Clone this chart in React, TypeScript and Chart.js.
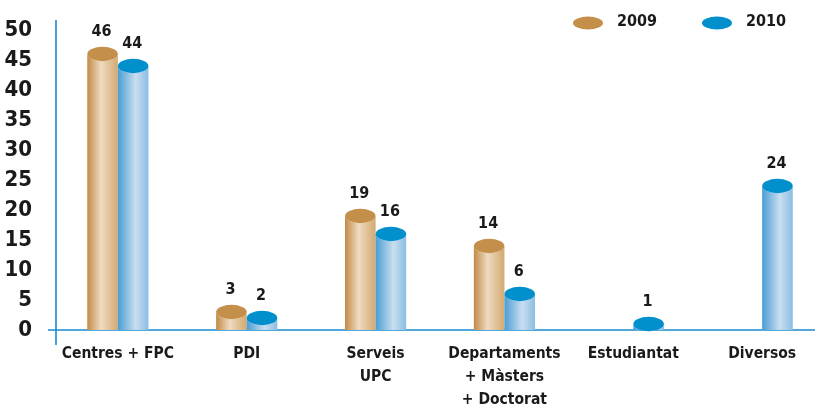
import React, { useEffect, useRef } from 'react';
import { Chart, registerables } from 'chart.js';

Chart.register(...registerables);

const categories: (string | string[])[] = [
  'Centres + FPC',
  'PDI',
  ['Serveis', 'UPC'],
  ['Departaments', '+ Màsters', '+ Doctorat'],
  'Estudiantat',
  'Diversos',
];
const seriesNames = ['2009', '2010'];
const values2009: (number | null)[] = [46, 3, 19, 14, null, null];
const values2010: (number | null)[] = [44, 2, 16, 6, 1, 24];
const yMin = 0;
const yMax = 50;
const yStep = 5;

const FONT = '"DejaVu Sans Condensed", "DejaVu Sans", sans-serif';
const AXIS_BLUE = '#1a8bd0';

const palettes = [
  { top: '#c48f4b', stops: ['#c28a46', '#eedbc1', '#d3a970'] },
  { top: '#0290cc', stops: ['#4a9dd3', '#c9def0', '#8cbde2'] },
];

const axisLinesPlugin = {
  id: 'axisLines',
  beforeDatasetsDraw(chart: any) {
    const { ctx, chartArea } = chart;
    const yZero = chart.scales.y.getPixelForValue(0);
    ctx.save();
    ctx.strokeStyle = AXIS_BLUE;
    ctx.lineWidth = 1.6;
    ctx.beginPath();
    ctx.moveTo(chartArea.left - 8, yZero);
    ctx.lineTo(chartArea.right, yZero);
    ctx.moveTo(chartArea.left, chartArea.top - 10);
    ctx.lineTo(chartArea.left, yZero + 15);
    ctx.stroke();
    ctx.restore();
  },
};

const cylinderPlugin = {
  id: 'cylinders',
  afterDatasetsDraw(chart: any) {
    const ctx = chart.ctx;
    chart.data.datasets.forEach((ds: any, di: number) => {
      const meta = chart.getDatasetMeta(di);
      const pal = palettes[di];
      meta.data.forEach((el: any, i: number) => {
        const v = ds.data[i].y;
        if (v == null) return;
        const { x, y, base, width } = el.getProps(['x', 'y', 'base', 'width'], true);
        if (!isFinite(y)) return;
        const rx = width / 2;
        const ry = width * 0.235;
        const l = x - rx;
        const r = x + rx;
        ctx.save();
        const g = ctx.createLinearGradient(l, 0, r, 0);
        g.addColorStop(0, pal.stops[0]);
        g.addColorStop(di === 0 ? 0.45 : 0.58, pal.stops[1]);
        g.addColorStop(1, pal.stops[2]);
        ctx.fillStyle = g;
        ctx.beginPath();
        ctx.moveTo(l, base);
        ctx.lineTo(l, y);
        ctx.ellipse(x, y, rx, ry, 0, Math.PI, 0, true);
        ctx.lineTo(r, base);
        ctx.closePath();
        ctx.fill();
        ctx.fillStyle = pal.top;
        ctx.beginPath();
        ctx.ellipse(x, y, rx, ry, 0, 0, Math.PI * 2);
        ctx.fill();
        ctx.fillStyle = '#1a1a1a';
        ctx.font = `bold 16px ${FONT}`;
        ctx.textAlign = 'center';
        ctx.textBaseline = 'bottom';
        ctx.fillText(String(v), x - 1, y - ry - 7);
        ctx.restore();
      });
    });
  },
};

const legendPlugin = {
  id: 'customLegend',
  afterDraw(chart: any) {
    const ctx = chart.ctx;
    const startX = chart.width - 227;
    const gap = 129;
    const cy = 23;
    chart.data.datasets.forEach((ds: any, di: number) => {
      const cx = startX + di * gap;
      ctx.save();
      ctx.fillStyle = palettes[di].top;
      ctx.beginPath();
      ctx.ellipse(cx, cy, 15, 6.5, 0, 0, Math.PI * 2);
      ctx.fill();
      ctx.fillStyle = '#1a1a1a';
      ctx.font = `bold 16px ${FONT}`;
      ctx.textAlign = 'left';
      ctx.textBaseline = 'middle';
      ctx.fillText(ds.label, cx + 29, cy - 1);
      ctx.restore();
    });
  },
};

export default function App() {
  const ref = useRef<HTMLCanvasElement | null>(null);
  useEffect(() => {
    document.body.style.margin = '0';
    const canvas = ref.current;
    if (!canvas) return;
    const chart = new Chart(canvas, {
      type: 'bar',
      data: {
        datasets: [
          {
            label: seriesNames[0],
            data: values2009.map((v, i) => ({ x: i, y: v })) as any,
            backgroundColor: 'rgba(0,0,0,0)',
            categoryPercentage: 0.475,
            barPercentage: 1,
          },
          {
            label: seriesNames[1],
            data: values2010.map((v, i) => ({ x: i, y: v })) as any,
            backgroundColor: 'rgba(0,0,0,0)',
            categoryPercentage: 0.475,
            barPercentage: 1,
          },
        ],
      },
      options: {
        animation: false,
        responsive: true,
        maintainAspectRatio: false,
        layout: { padding: { top: 30, left: 0, right: 0, bottom: 0 } },
        plugins: {
          legend: { display: false },
          tooltip: { enabled: false },
        },
        scales: {
          x: {
            type: 'linear',
            offset: false,
            min: -0.48,
            max: 5.41,
            grid: { display: false, drawTicks: false },
            border: { display: false },
            afterBuildTicks: (s: any) => {
              s.ticks = categories.map((_, i) => ({ value: i }));
            },
            afterFit: (s: any) => {
              s.height = 78;
            },
            ticks: {
              autoSkip: false,
              maxRotation: 0,
              minRotation: 0,
              padding: 12,
              color: '#1a1a1a',
              font: { family: FONT, size: 15.5, weight: 'bold', lineHeight: 1.5 },
              callback: (_v: any, idx: number) => categories[idx] as any,
            },
          },
          y: {
            min: yMin,
            max: yMax,
            grid: { display: false, drawTicks: false },
            border: { display: false },
            afterFit: (s: any) => {
              s.width = 56;
              s.paddingTop = 0;
              s.paddingBottom = 0;
            },
            ticks: {
              stepSize: yStep,
              autoSkip: false,
              padding: 24,
              color: '#1a1a1a',
              font: { family: FONT, size: 22, weight: 'bold' },
            },
          },
        },
      } as any,
      plugins: [axisLinesPlugin, cylinderPlugin, legendPlugin],
    });
    return () => chart.destroy();
  }, []);
  return (
    <div style={{ width: 815, height: 408, position: 'relative' }}>
      <canvas ref={ref} />
    </div>
  );
}
